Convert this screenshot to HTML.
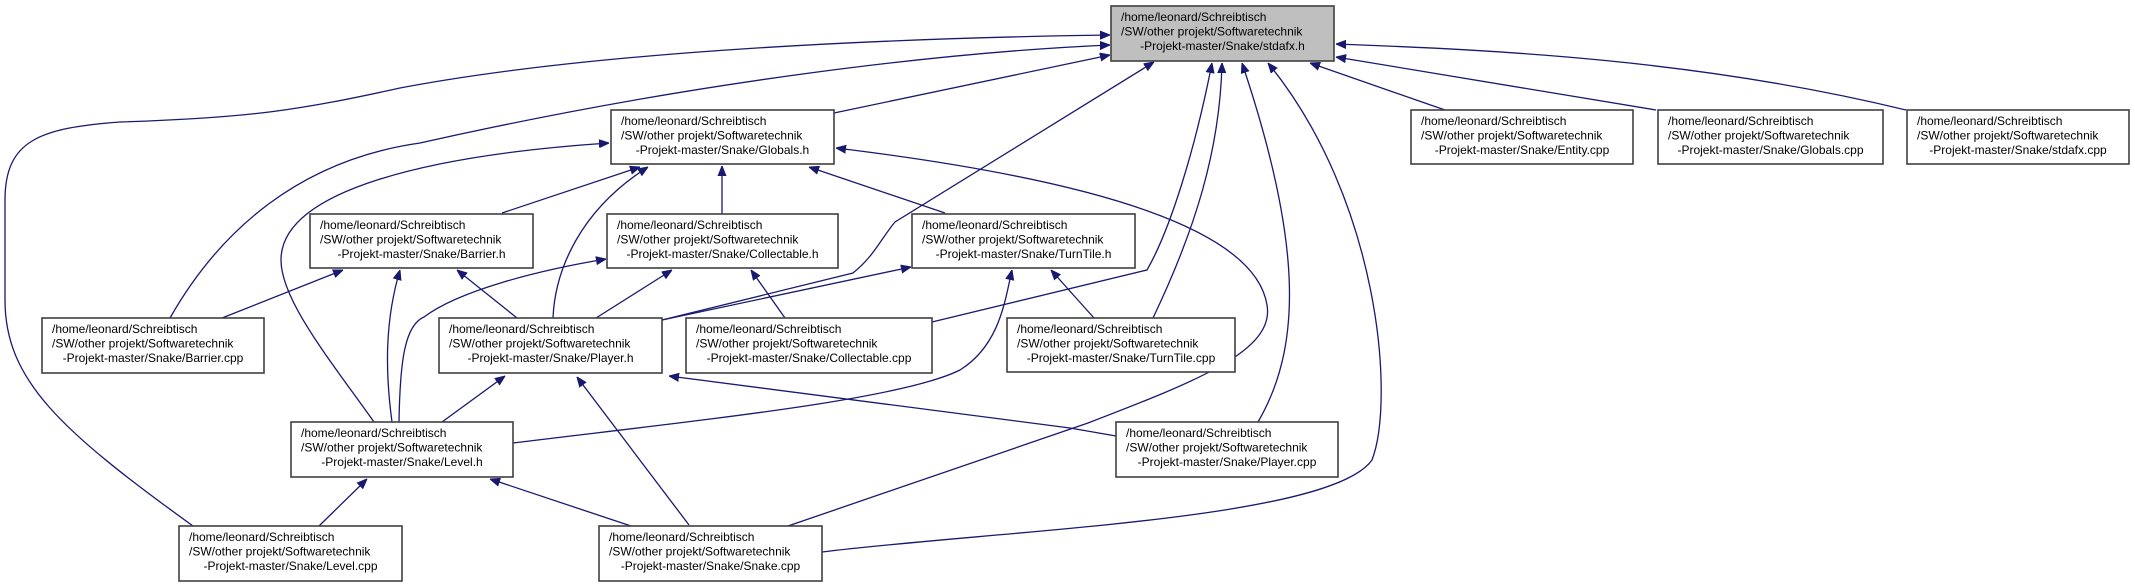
<!DOCTYPE html>
<html><head><meta charset="utf-8"><style>
html,body{margin:0;padding:0;background:#fff;}
svg{display:block;}
text{font-family:"Liberation Sans",sans-serif;font-size:12px;fill:#000;}
.b{fill:#fff;stroke:#404040;stroke-width:1.6;}
.g{fill:#bfbfbf;stroke:#404040;stroke-width:1.6;}
path{fill:none;stroke:#191970;stroke-width:1.3;}
</style></head><body>
<svg width="2135" height="587" viewBox="0 0 2135 587" xmlns="http://www.w3.org/2000/svg">
<defs><marker id="a" viewBox="0 0 10 10" refX="10" refY="5" markerWidth="10" markerHeight="10" markerUnits="userSpaceOnUse" orient="auto"><path d="M0,1 L10,5 L0,9 Z" style="fill:#191970;stroke:#191970;stroke-width:1"/></marker></defs>
<g marker-end="url(#a)">
<!-- to stdafx.h -->
<path d="M193,526 C60,430 5,380 5,300 L5,200 C5,140 40,128 120,122 C250,118 300,110 400,88 C600,50 900,38 1110,35"/>
<path d="M170,318 C220,230 300,160 420,143 C700,80 950,52 1110,45"/>
<path d="M834,113 L1110,55"/>
<path d="M662,320 L853,273 C875,255 880,240 895,222 L1154,62"/>
<path d="M932,322 L1147,270 C1170,230 1195,150 1212,63"/>
<path d="M1153,318 C1195,230 1220,150 1222,63"/>
<path d="M1258,422 C1300,350 1305,250 1242,63"/>
<path d="M822,552 C1000,530 1330,520 1372,460 C1395,400 1380,200 1268,63"/>
<path d="M1445,110 L1310,63"/>
<path d="M1656,110 L1336,57"/>
<path d="M1906,110 C1700,60 1500,50 1336,44"/>
<!-- Globals.h -->
<path d="M374,422 C330,360 281,300 281,260 C281,190 430,155 609,143"/>
<path d="M502,213 L640,167"/>
<path d="M553,318 C555,270 580,210 648,167"/>
<path d="M722,214 L722,166"/>
<path d="M945,213 L809,167"/>
<path d="M788,526 L1088,423 C1200,380 1275,350 1267,305 C1255,230 1100,180 836,148"/>
<!-- Barrier.h -->
<path d="M222,318 L343,270"/>
<path d="M392,422 C385,370 385,320 400,270"/>
<path d="M517,318 L457,270"/>
<!-- Collectable.h -->
<path d="M399,422 C400,360 405,325 424,317 C460,290 540,270 606,259"/>
<path d="M596,318 L672,270"/>
<path d="M785,318 L751,270"/>
<!-- TurnTile.h -->
<path d="M662,320 L911,267"/>
<path d="M513,443 C700,420 900,400 960,370 C1000,345 1005,300 1012,270"/>
<path d="M1094,318 L1051,270"/>
<!-- Player.h -->
<path d="M442,422 L505,376"/>
<path d="M689,525 L577,377"/>
<path d="M1116,436 L1070,428 L669,376"/>
<!-- Level.h -->
<path d="M319,526 L367,479"/>
<path d="M631,526 L490,479"/>
</g>
<!-- nodes -->
<g>
<rect class="g" x="1111" y="6" width="223" height="55"/>
<text x="1121" y="21">/home/leonard/Schreibtisch</text><text x="1121" y="35.5">/SW/other projekt/Softwaretechnik</text><text x="1222.5" y="50" text-anchor="middle">-Projekt-master/Snake/stdafx.h</text>

<rect class="b" x="611" y="110" width="223" height="54"/>
<text x="621" y="125">/home/leonard/Schreibtisch</text><text x="621" y="139.5">/SW/other projekt/Softwaretechnik</text><text x="722.5" y="154" text-anchor="middle">-Projekt-master/Snake/Globals.h</text>

<rect class="b" x="1411" y="110" width="222" height="54"/>
<text x="1421" y="125">/home/leonard/Schreibtisch</text><text x="1421" y="139.5">/SW/other projekt/Softwaretechnik</text><text x="1522" y="154" text-anchor="middle">-Projekt-master/Snake/Entity.cpp</text>

<rect class="b" x="1658" y="110" width="225" height="54"/>
<text x="1668" y="125">/home/leonard/Schreibtisch</text><text x="1668" y="139.5">/SW/other projekt/Softwaretechnik</text><text x="1770.5" y="154" text-anchor="middle">-Projekt-master/Snake/Globals.cpp</text>

<rect class="b" x="1907" y="110" width="222" height="54"/>
<text x="1917" y="125">/home/leonard/Schreibtisch</text><text x="1917" y="139.5">/SW/other projekt/Softwaretechnik</text><text x="2018" y="154" text-anchor="middle">-Projekt-master/Snake/stdafx.cpp</text>

<rect class="b" x="310" y="214" width="223" height="54"/>
<text x="320" y="229">/home/leonard/Schreibtisch</text><text x="320" y="243.5">/SW/other projekt/Softwaretechnik</text><text x="421.5" y="258" text-anchor="middle">-Projekt-master/Snake/Barrier.h</text>

<rect class="b" x="607" y="214" width="231" height="54"/>
<text x="617" y="229">/home/leonard/Schreibtisch</text><text x="617" y="243.5">/SW/other projekt/Softwaretechnik</text><text x="722.5" y="258" text-anchor="middle">-Projekt-master/Snake/Collectable.h</text>

<rect class="b" x="912" y="214" width="223" height="54"/>
<text x="922" y="229">/home/leonard/Schreibtisch</text><text x="922" y="243.5">/SW/other projekt/Softwaretechnik</text><text x="1023.5" y="258" text-anchor="middle">-Projekt-master/Snake/TurnTile.h</text>

<rect class="b" x="42" y="318" width="222" height="55"/>
<text x="52" y="333">/home/leonard/Schreibtisch</text><text x="52" y="347.5">/SW/other projekt/Softwaretechnik</text><text x="153" y="362" text-anchor="middle">-Projekt-master/Snake/Barrier.cpp</text>

<rect class="b" x="439" y="318" width="223" height="55"/>
<text x="449" y="333">/home/leonard/Schreibtisch</text><text x="449" y="347.5">/SW/other projekt/Softwaretechnik</text><text x="550.5" y="362" text-anchor="middle">-Projekt-master/Snake/Player.h</text>

<rect class="b" x="686" y="318" width="246" height="55"/>
<text x="696" y="333">/home/leonard/Schreibtisch</text><text x="696" y="347.5">/SW/other projekt/Softwaretechnik</text><text x="809" y="362" text-anchor="middle">-Projekt-master/Snake/Collectable.cpp</text>

<rect class="b" x="1007" y="318" width="228" height="54"/>
<text x="1017" y="333">/home/leonard/Schreibtisch</text><text x="1017" y="347.5">/SW/other projekt/Softwaretechnik</text><text x="1121" y="362" text-anchor="middle">-Projekt-master/Snake/TurnTile.cpp</text>

<rect class="b" x="291" y="422" width="222" height="55"/>
<text x="301" y="437">/home/leonard/Schreibtisch</text><text x="301" y="451.5">/SW/other projekt/Softwaretechnik</text><text x="402" y="466" text-anchor="middle">-Projekt-master/Snake/Level.h</text>

<rect class="b" x="1116" y="422" width="222" height="55"/>
<text x="1126" y="437">/home/leonard/Schreibtisch</text><text x="1126" y="451.5">/SW/other projekt/Softwaretechnik</text><text x="1227" y="466" text-anchor="middle">-Projekt-master/Snake/Player.cpp</text>

<rect class="b" x="179" y="526" width="223" height="55"/>
<text x="189" y="541">/home/leonard/Schreibtisch</text><text x="189" y="555.5">/SW/other projekt/Softwaretechnik</text><text x="290.5" y="570" text-anchor="middle">-Projekt-master/Snake/Level.cpp</text>

<rect class="b" x="599" y="526" width="223" height="55"/>
<text x="609" y="541">/home/leonard/Schreibtisch</text><text x="609" y="555.5">/SW/other projekt/Softwaretechnik</text><text x="710.5" y="570" text-anchor="middle">-Projekt-master/Snake/Snake.cpp</text>
</g>
</svg>
</body></html>
